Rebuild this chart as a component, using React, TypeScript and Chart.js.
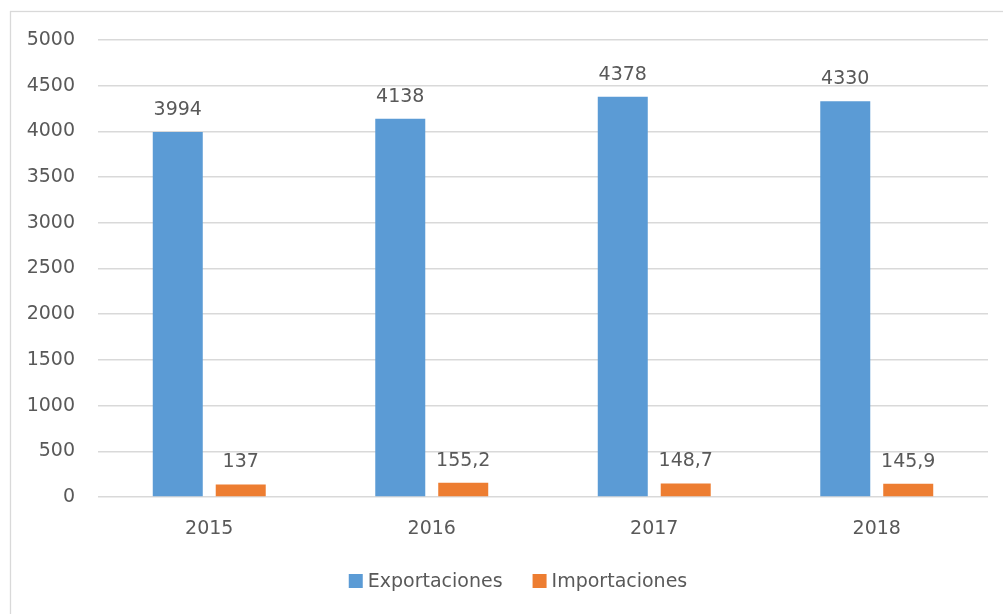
import React, { useEffect, useRef } from "react";
import { Chart, registerables } from "chart.js";

Chart.register(...registerables);

const categories = ["2015", "2016", "2017", "2018"];
const exportaciones = [3994, 4138, 4378, 4330];
const importaciones = [137, 155.2, 148.7, 145.9];
const seriesNames = ["Exportaciones", "Importaciones"];
const seriesColors = ["#5B9BD5", "#ED7D31"];
const yMin = 0;
const yMax = 5000;
const yStep = 500;

const FONT = "'DejaVu Sans', sans-serif";
const FSIZE = 19;
const TEXT = "#595959";
const GRID = "#D9D9D9";

const fmt = (v: number) => String(v).replace(".", ",");

const decorPlugin = {
  id: "decor",
  afterDraw(chart: any) {
    const ctx = chart.ctx;
    ctx.save();
    // outer border
    ctx.strokeStyle = GRID;
    ctx.lineWidth = 1.3;
    ctx.strokeRect(10.5, 11.5, 1100, 700);
    // data labels
    ctx.fillStyle = TEXT;
    ctx.font = `${FSIZE}px ${FONT}`;
    ctx.textAlign = "center";
    ctx.textBaseline = "alphabetic";
    chart.data.datasets.forEach((ds: any, i: number) => {
      const meta = chart.getDatasetMeta(i);
      meta.data.forEach((bar: any, j: number) => {
        ctx.fillText(fmt(ds.data[j]), bar.x, bar.y - 17);
      });
    });
    // legend
    const items = seriesNames.map((n, i) => ({ n, c: seriesColors[i] }));
    const box = 14;
    const gapBoxText = 5;
    const gapItems = 30;
    const widths = items.map((it) => box + gapBoxText + ctx.measureText(it.n).width);
    const total = widths.reduce((a, b) => a + b, 0) + gapItems * (items.length - 1);
    const cx = (chart.chartArea.left + chart.chartArea.right) / 2 - 25;
    let x = cx - total / 2;
    const yc = 581;
    ctx.textAlign = "left";
    ctx.textBaseline = "middle";
    items.forEach((it, i) => {
      ctx.fillStyle = it.c;
      ctx.fillRect(x, yc - box / 2, box, box);
      ctx.fillStyle = TEXT;
      ctx.fillText(it.n, x + box + gapBoxText, yc + 1);
      x += widths[i] + gapItems;
    });
    ctx.restore();
  },
};

export default function App() {
  const ref = useRef<HTMLCanvasElement | null>(null);
  useEffect(() => {
    document.body.style.margin = "0";
    const chart = new Chart(ref.current as HTMLCanvasElement, {
      type: "bar",
      data: {
        labels: categories,
        datasets: [
          { label: seriesNames[0], data: exportaciones, backgroundColor: seriesColors[0] },
          { label: seriesNames[1], data: importaciones, backgroundColor: seriesColors[1] },
        ],
      },
      options: {
        animation: false,
        responsive: false,
        devicePixelRatio: 1,
        layout: { padding: { left: 0, right: 15, top: 40, bottom: 0 } },
        datasets: { bar: { categoryPercentage: 0.566, barPercentage: 0.794 } },
        plugins: { legend: { display: false }, tooltip: { enabled: false } },
        scales: {
          x: {
            grid: { display: false, drawTicks: false },
            border: { display: false },
            ticks: { color: TEXT, font: { family: FONT, size: FSIZE }, padding: 21 },
            afterFit: (axis: any) => {
              axis.height = 117;
            },
          },
          y: {
            min: yMin,
            max: yMax,
            grid: { color: GRID, lineWidth: 1.5, drawTicks: false },
            border: { display: false },
            ticks: {
              stepSize: yStep,
              color: TEXT,
              font: { family: FONT, size: FSIZE },
              padding: 23,
              callback: (v: any) => String(v),
            },
            afterFit: (axis: any) => {
              axis.width = 98;
            },
          },
        },
      },
      plugins: [decorPlugin],
    });
    return () => chart.destroy();
  }, []);
  return <canvas ref={ref} width={1003} height={614} style={{ display: "block" }} />;
}
